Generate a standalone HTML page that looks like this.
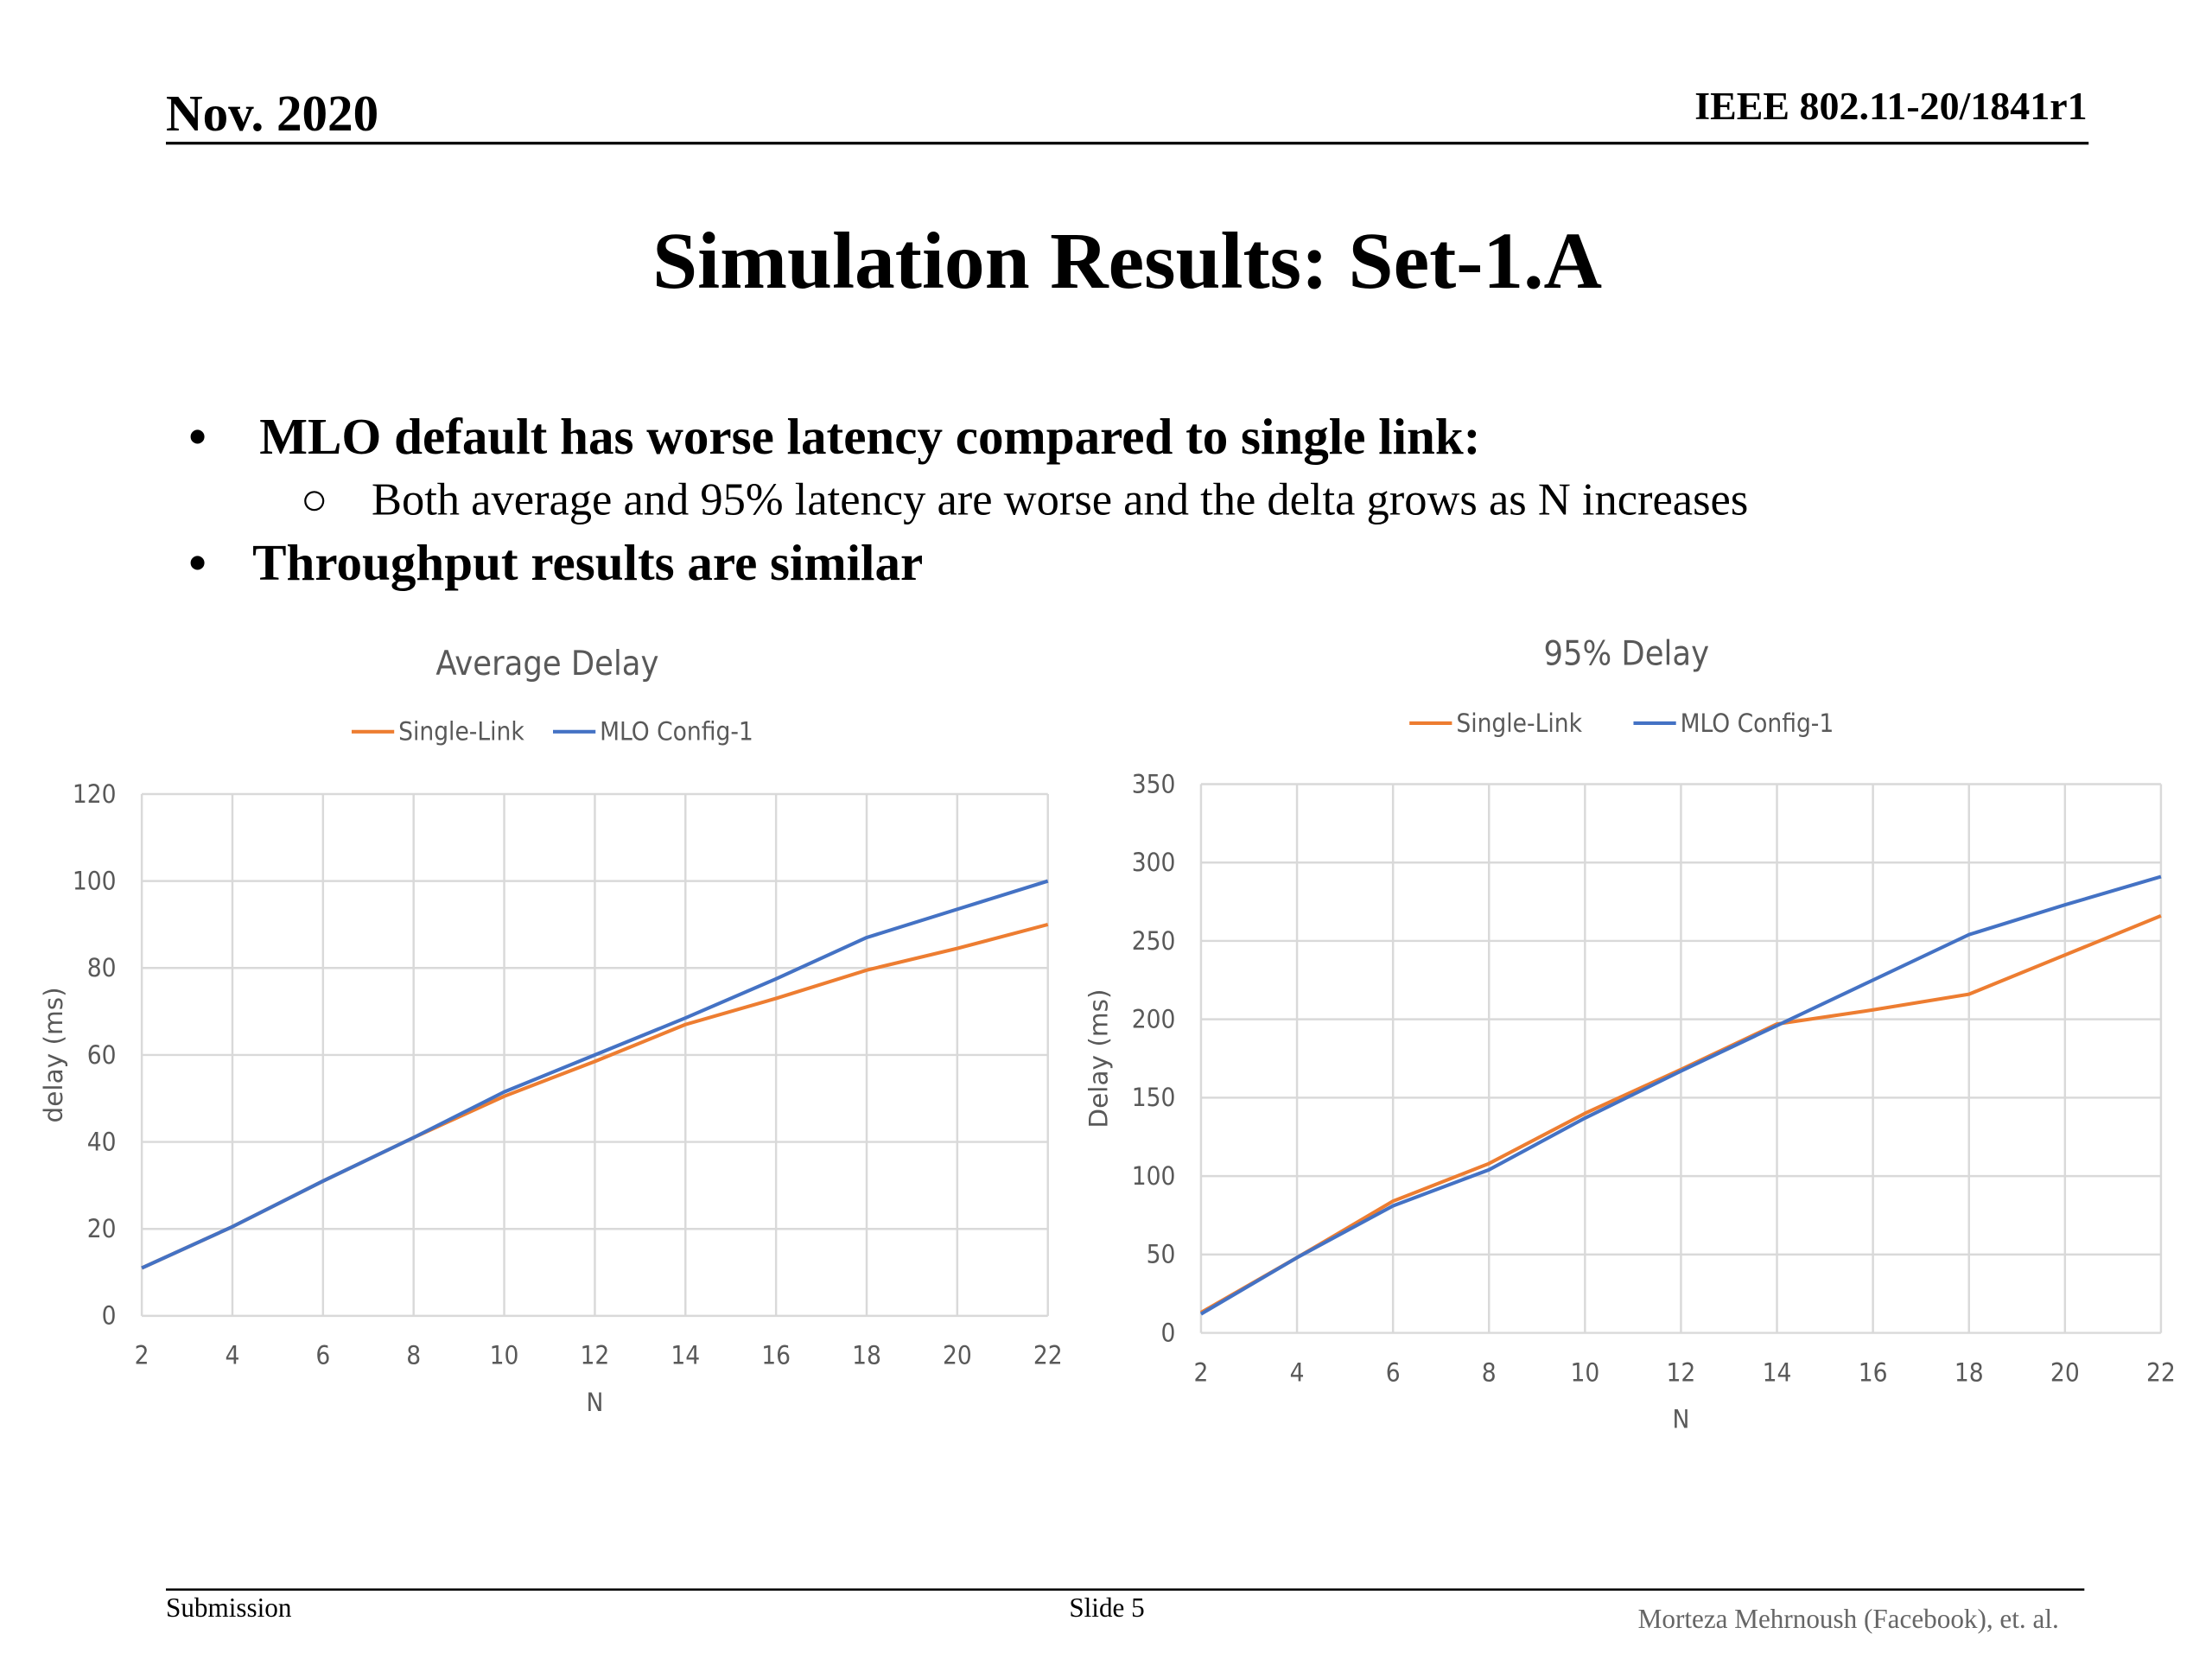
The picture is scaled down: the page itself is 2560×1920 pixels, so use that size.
<!DOCTYPE html>
<html><head><meta charset="utf-8"><style>
html,body{margin:0;padding:0;background:#fff;}
svg{display:block;}
.serif{font-family:"Liberation Serif",serif;}
.sans{font-family:"Liberation Sans",sans-serif;}
</style></head><body>
<svg id="slide" width="2560" height="1920" viewBox="0 0 1560 1170" preserveAspectRatio="none" xmlns="http://www.w3.org/2000/svg">
<rect width="1560" height="1170" fill="#fff"/>
<text class="serif" x="117" y="92" font-size="36" font-weight="bold">Nov. 2020</text>
<text class="serif" x="1472" y="84" font-size="28" font-weight="bold" text-anchor="end">IEEE 802.11-20/1841r1</text>
<line x1="117" y1="101" x2="1473" y2="101" stroke="#000" stroke-width="2"/>
<text class="serif" x="795" y="203" font-size="57" font-weight="bold" text-anchor="middle">Simulation Results: Set-1.A</text>
<text class="serif" font-size="36" font-weight="bold"><tspan x="133" y="320">•</tspan><tspan x="183" y="320">MLO default has worse latency compared to single link:</tspan></text>
<text class="serif" font-size="32"><tspan x="212" y="363">○</tspan><tspan x="262" y="363">Both average and 95% latency are worse and the delta grows as N increases</tspan></text>
<text class="serif" font-size="36" font-weight="bold"><tspan x="133" y="409">•</tspan><tspan x="178" y="409">Throughput results are similar</tspan></text>
<g id="chart1"></g>
<g id="chart2"></g>
<line x1="117" y1="1121" x2="1470" y2="1121" stroke="#000" stroke-width="1.5"/>
<text class="serif" x="117" y="1140" font-size="19">Submission</text>
<text class="serif" x="754" y="1140" font-size="19">Slide 5</text>
<text class="serif" x="1452" y="1148" font-size="19" fill="#666" text-anchor="end">Morteza Mehrnoush (Facebook), et. al.</text>
</svg>
<script>
const xCategories = [2,4,6,8,10,12,14,16,18,20,22];
const avgSingleLink = [11,20.5,31,41,50.5,58.5,67,73,79.5,84.5,90];
const avgMlo = [11,20.5,31,41,51.5,60,68.5,77.5,87,93.5,100];
const avgYTicks = [0,20,40,60,80,100,120];
const p95SingleLink = [13,48,84,108,140,168,197,206,216,241,266];
const p95Mlo = [12,48,81,104,137,167,196,225,254,273,291];
const p95YTicks = [0,50,100,150,200,250,300,350];

const NS = "http://www.w3.org/2000/svg";
function mk(parent, tag, attrs, text){
  const e = document.createElementNS(NS, tag);
  for (const k in attrs) e.setAttribute(k, attrs[k]);
  if (text !== undefined) e.textContent = text;
  parent.appendChild(e);
  return e;
}
function drawChart(g, cfg){
  const xs = v => cfg.L + (v - xCategories[0]) / (xCategories[xCategories.length-1] - xCategories[0]) * (cfg.R - cfg.L);
  const ymax = cfg.yTicks[cfg.yTicks.length-1];
  const ys = v => cfg.B - v / ymax * (cfg.B - cfg.T);
  const t = mk(g,'text',{x:cfg.titleX,y:cfg.titleY,'font-size':24,fill:'#595959','text-anchor':'middle','font-family':'"DejaVu Sans Condensed","Liberation Sans",sans-serif'},cfg.title);
  
  
  cfg.yTicks.forEach(v=>{
    const l = mk(g,'line',{x1:cfg.L,x2:cfg.R,y1:ys(v),y2:ys(v),stroke:'#d9d9d9','stroke-width':1.5});
    
    
    const tl = mk(g,'text',{x:cfg.L-18,y:ys(v)+6,'font-size':18,fill:'#595959','text-anchor':'end','font-family':'"DejaVu Sans Condensed","Liberation Sans",sans-serif'},String(v));
    
    
  });
  xCategories.forEach(v=>{
    const l = mk(g,'line',{x1:xs(v),x2:xs(v),y1:cfg.T,y2:cfg.B,stroke:'#d9d9d9','stroke-width':1.5});
    
    
    const tl = mk(g,'text',{x:xs(v),y:cfg.B+34,'font-size':18,fill:'#595959','text-anchor':'middle','font-family':'"DejaVu Sans Condensed","Liberation Sans",sans-serif'},String(v));
    
    
  });
  const xt = mk(g,'text',{x:(cfg.L+cfg.R)/2,y:cfg.B+67,'font-size':18,fill:'#595959','text-anchor':'middle','font-family':'"DejaVu Sans Condensed","Liberation Sans",sans-serif'},'N');
  
  
  const yt = mk(g,'text',{x:0,y:0,'font-size':18,fill:'#595959','text-anchor':'middle','font-family':'"DejaVu Sans","Liberation Sans",sans-serif',transform:'translate('+cfg.yTitleX+','+((cfg.T+cfg.B)/2)+') rotate(-90)'},cfg.yTitle);
  
  
  const series = [[cfg.s1,'#ed7d31','series-single-link'],[cfg.s2,'#4472c4','series-mlo-config-1']];
  series.forEach(([d,c,n])=>{
    const p = mk(g,'polyline',{points:d.map((v,i)=>xs(xCategories[i])+','+ys(v)).join(' '),fill:'none',stroke:c,'stroke-width':2.5,'stroke-linejoin':'round'});
    
    
  });
  const lg = cfg.legend;
  [[lg[0],'#ed7d31','Single-Link'],[lg[1],'#4472c4','MLO Config-1']].forEach(([x,c,label])=>{
    const l = mk(g,'line',{x1:x,x2:x+30,y1:cfg.legY,y2:cfg.legY,stroke:c,'stroke-width':2.5});
    
    
    const tl = mk(g,'text',{x:x+33,y:cfg.legY+6,'font-size':18,fill:'#595959','font-family':'"DejaVu Sans Condensed","Liberation Sans",sans-serif'},label);
    
    
  });
}
drawChart(document.getElementById('chart1'),{L:100,R:739,T:560,B:928,yTicks:avgYTicks,s1:avgSingleLink,s2:avgMlo,title:'Average Delay',titleX:386,titleY:476,yTitle:'delay (ms)',yTitleX:44,legY:516,legend:[248,390]});
drawChart(document.getElementById('chart2'),{L:847,R:1524,T:553,B:940,yTicks:p95YTicks,s1:p95SingleLink,s2:p95Mlo,title:'95% Delay',titleX:1147,titleY:469,yTitle:'Delay (ms)',yTitleX:781,legY:510,legend:[994,1152]});
</script>
</body></html>
